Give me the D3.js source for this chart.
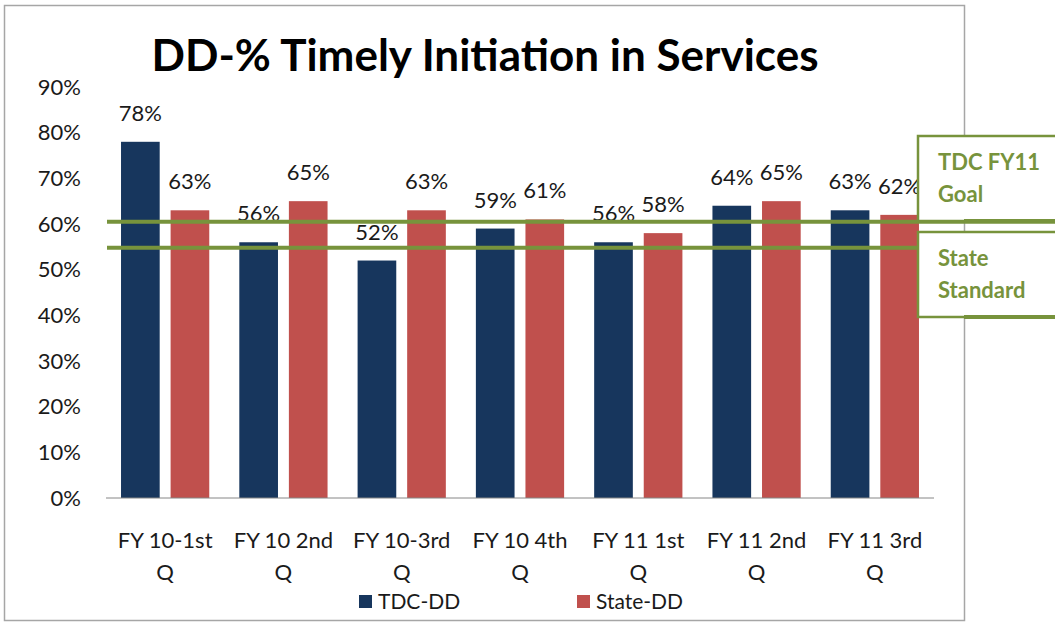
<!DOCTYPE html>
<html>
<head>
<meta charset="utf-8">
<script src="https://cdn.jsdelivr.net/npm/d3@7"></script>
<style>
  body { margin: 0; background: #fff; }
  text { font-family: Lato, "Open Sans", sans-serif; }
</style>
</head>
<body>
<div id="chart"></div>
<script>
// chart values
var categories = ["FY 10-1st Q", "FY 10 2nd Q", "FY 10-3rd Q", "FY 10 4th Q", "FY 11 1st Q", "FY 11 2nd Q", "FY 11 3rd Q"];
var seriesNames = ["TDC-DD", "State-DD"];
var tdcValues = [78, 56, 52, 59, 56, 64, 63];
var stateValues = [63, 65, 63, 61, 58, 65, 62];
var yTicks = [0, 10, 20, 30, 40, 50, 60, 70, 80, 90];
var goalValue = 60.5;      // TDC FY11 goal line
var standardValue = 54.8;  // state standard line
var refLabels = [["TDC FY11", "Goal"], ["State", "Standard"]];
var titleText = "DD-% Timely Initiation in Services";

var colors = { "TDC-DD": "#17365D", "State-DD": "#C0504D" };
var green = "#77933C";

timelyChart = function(_parentElement){
    this.parentElement = _parentElement;
    this.data = categories.map(function(c, i) {
        return { category: c, values: [
            { series: seriesNames[0], value: tdcValues[i] },
            { series: seriesNames[1], value: stateValues[i] }
        ]};
    });
    this.initVis();
}

timelyChart.prototype.initVis = function(){
    var vis = this;

    vis.width = 1055;
    vis.height = 623;
    vis.plot = { left: 106, right: 934, top: 87, bottom: 498 };

    vis.svg = d3.select("#" + vis.parentElement)
        .append("svg")
        .attr("width", vis.width)
        .attr("height", vis.height);

    // outer chart frame
    vis.svg.append("rect")
        .attr("x", 4.5).attr("y", 5.5)
        .attr("width", 960).attr("height", 615)
        .attr("fill", "#fff")
        .attr("stroke", "#a6a6a6")
        .attr("stroke-width", 1.5);

    vis.x = d3.scaleBand()
        .domain(categories)
        .range([vis.plot.left, vis.plot.right])
        .paddingInner(0.254)
        .paddingOuter(0.127);

    vis.xSub = d3.scaleBand()
        .domain(seriesNames)
        .range([0, vis.x.bandwidth()])
        .paddingInner(0.22);

    vis.y = d3.scaleLinear()
        .domain([0, 90])
        .range([vis.plot.bottom, vis.plot.top]);

    // title
    vis.svg.append("text")
        .attr("x", 485)
        .attr("y", 71)
        .attr("text-anchor", "middle")
        .style("font-size", "44px")
        .style("font-weight", "bold")
        .style("fill", "#000")
        .text(titleText);

    // y axis: labels only
    vis.yAxis = d3.axisLeft(vis.y)
        .tickValues(yTicks)
        .tickSize(0)
        .tickPadding(0)
        .tickFormat(function(d) { return d + "%"; });

    var yg = vis.svg.append("g")
        .attr("class", "axis y-axis")
        .attr("transform", "translate(81,0)")
        .call(vis.yAxis);
    yg.select(".domain").remove();
    yg.selectAll("text")
        .style("font-size", "22px")
        .style("font-family", "Lato, sans-serif")
        .style("fill", "#1a1a1a");

    // bars
    vis.groups = vis.svg.selectAll(".group")
        .data(vis.data)
        .enter()
        .append("g")
        .attr("class", "group")
        .attr("transform", function(d) { return "translate(" + vis.x(d.category) + ",0)"; });

    vis.groups.selectAll("rect")
        .data(function(d) { return d.values; })
        .enter()
        .append("rect")
        .attr("x", function(d) { return vis.xSub(d.series); })
        .attr("y", function(d) { return vis.y(d.value); })
        .attr("width", vis.xSub.bandwidth())
        .attr("height", function(d) { return vis.y(0) - vis.y(d.value); })
        .style("fill", function(d) { return colors[d.series]; });

    // x baseline
    vis.svg.append("line")
        .attr("x1", vis.plot.left).attr("x2", vis.plot.right)
        .attr("y1", vis.y(0)).attr("y2", vis.y(0))
        .attr("stroke", "#868686")
        .attr("stroke-width", 1);

    // category labels, wrapped before the last word
    vis.svg.selectAll(".cat-label")
        .data(categories)
        .enter()
        .append("text")
        .attr("class", "cat-label")
        .attr("text-anchor", "middle")
        .attr("y", 548)
        .style("font-size", "22px")
        .style("fill", "#1a1a1a")
        .each(function(d) {
            var cut = d.lastIndexOf(" ");
            var cx = vis.x(d) + vis.x.bandwidth() / 2;
            d3.select(this).append("tspan").attr("x", cx).text(d.slice(0, cut));
            d3.select(this).append("tspan").attr("x", cx).attr("dy", 32).text(d.slice(cut + 1));
        });

    // reference lines
    [goalValue, standardValue].forEach(function(v) {
        vis.svg.append("line")
            .attr("x1", vis.plot.left + 1).attr("x2", 1055)
            .attr("y1", vis.y(v)).attr("y2", vis.y(v))
            .attr("stroke", green)
            .attr("stroke-width", 4);
    });

    // data labels
    vis.groups.selectAll(".val")
        .data(function(d) { return d.values; })
        .enter()
        .append("text")
        .attr("class", "val")
        .attr("text-anchor", "middle")
        .attr("x", function(d) { return vis.xSub(d.series) + vis.xSub.bandwidth() / 2; })
        .attr("y", function(d) { return vis.y(d.value) - 21; })
        .style("font-size", "22px")
        .style("fill", "#1a1a1a")
        .text(function(d) { return d.value + "%"; });

    // callout boxes for the reference lines
    var boxes = [{ y: 136, h: 85, lines: refLabels[0] }, { y: 232, h: 85, lines: refLabels[1] }];
    boxes.forEach(function(b) {
        vis.svg.append("rect")
            .attr("x", 918).attr("y", b.y)
            .attr("width", 150).attr("height", b.h)
            .attr("fill", "#fff")
            .attr("stroke", green)
            .attr("stroke-width", 2.5);
        vis.svg.append("line")
            .attr("x1", 964).attr("x2", 1055)
            .attr("y1", b.y + b.h).attr("y2", b.y + b.h)
            .attr("stroke", green)
            .attr("stroke-width", 4);
        b.lines.forEach(function(t, i) {
            vis.svg.append("text")
                .attr("x", 938)
                .attr("y", b.y + 34 + i * 32)
                .style("font-size", "22px")
                .style("font-weight", "bold")
                .style("fill", green)
                .text(t);
        });
    });

    // legend
    var legendX = [359, 577];
    seriesNames.forEach(function(s, i) {
        var lg = vis.svg.append("g").attr("transform", "translate(" + legendX[i] + ",595)");
        lg.append("rect").attr("width", 13).attr("height", 13).style("fill", colors[s]);
        lg.append("text")
            .attr("x", 19).attr("y", 14)
            .style("font-size", "21px")
            .style("fill", "#1a1a1a")
            .text(s);
    });
}

var chart = new timelyChart("chart");
</script>
</body>
</html>
